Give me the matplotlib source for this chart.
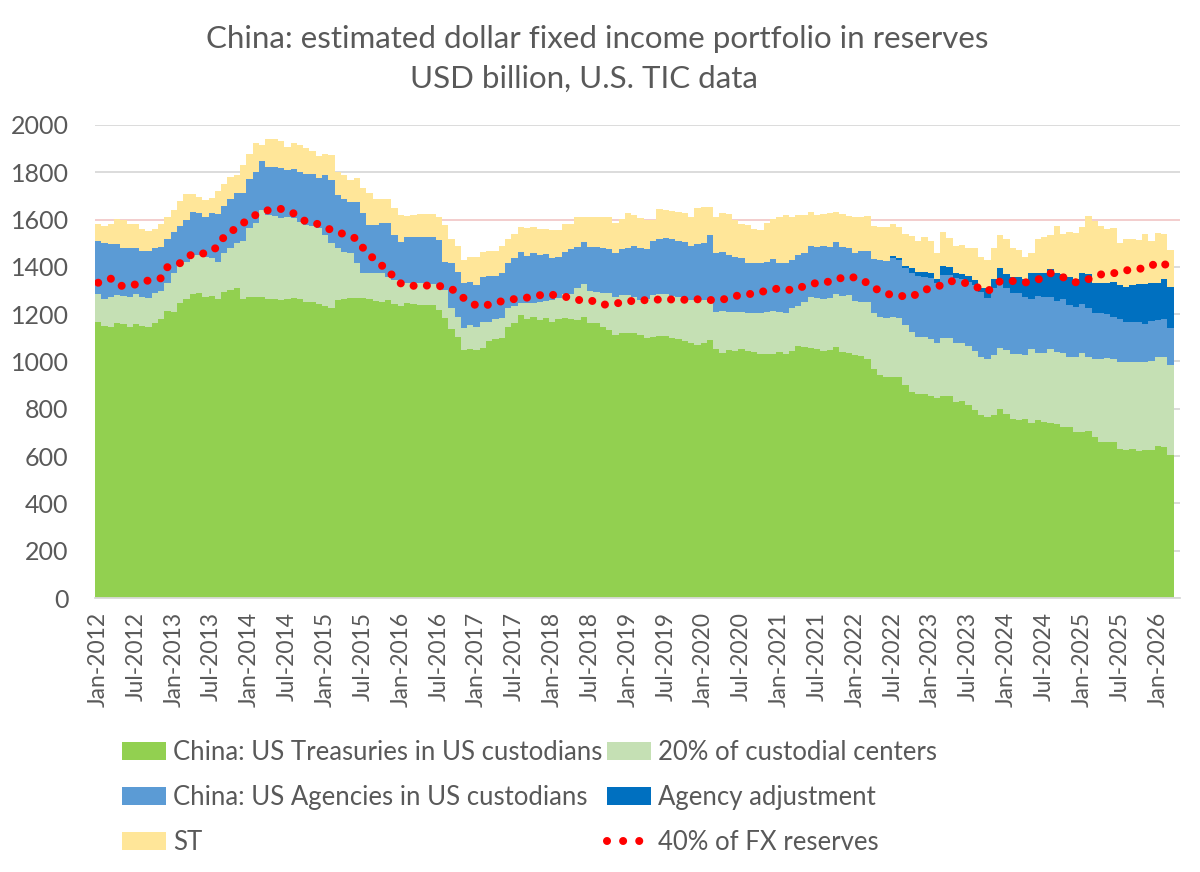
import numpy as np
import pandas as pd
import matplotlib
matplotlib.use("Agg")
import matplotlib.pyplot as plt
from matplotlib.patches import Patch
from matplotlib.lines import Line2D

plt.rcParams['font.family'] = ['Lato', 'DejaVu Sans']

# monthly, Jan-2012 .. Mar-2026 (USD billion)
months = pd.date_range("2012-01-01", periods=171, freq="MS")

treasuries = [
    1167, 1152, 1145, 1162, 1159, 1145, 1159, 1152, 1147, 1164, 1178, 1212, 1209, 1249, 1264, 1286, 1288, 1274, 1278, 1264,
    1293, 1302, 1309, 1264, 1274, 1274, 1274, 1263,
    1264, 1260, 1263, 1267, 1264, 1253, 1250, 1242, 1235, 1225, 1260, 1263, 1267, 1267, 1267, 1264, 1256, 1250, 1260, 1243,
    1236, 1249, 1243, 1239, 1239, 1238, 1218, 1183, 1138,
    1102, 1049, 1052, 1049, 1056, 1088, 1094, 1098, 1145, 1164, 1197, 1178, 1187, 1176, 1183, 1169, 1178, 1183, 1178, 1176,
    1187, 1164, 1162, 1145, 1133, 1112, 1119, 1119,
    1119, 1112, 1098, 1105, 1108, 1108, 1098, 1094, 1088, 1080, 1070, 1077, 1091, 1052, 1035, 1049, 1045, 1052, 1046, 1042,
    1030, 1032, 1032, 1039, 1030, 1046, 1066, 1063, 1059,
    1052, 1046, 1049, 1063, 1042, 1035, 1028, 1023, 1011, 967, 943, 936, 936, 936, 901, 873, 863, 861, 854, 847,
    854, 854, 830, 833, 816, 795, 774, 767,
    774, 798, 778, 756, 753, 757, 742, 753, 746, 739, 735, 722, 725, 704, 704, 708, 682, 661, 661, 659,
    629, 626, 630, 622, 626, 626, 643, 640, 605,
]

custodial = [
    118, 112, 126, 119, 118, 129, 126, 122, 123, 124, 122, 119, 164, 156, 158, 164, 162, 167, 158, 158,
    164, 177, 193, 247, 292, 310, 367, 356,
    351, 348, 347, 338, 327, 324, 323, 321, 300, 275, 219, 201, 193, 148, 106, 109, 120, 123, 99, 102,
    102, 84, 90, 92, 92, 88, 101, 119, 87,
    88, 91, 103, 96, 113, 81, 84, 85, 80, 71, 52, 71, 62, 77, 73, 91, 89, 101, 108, 133,
    139, 136, 133, 146, 155, 162, 162, 162,
    155, 148, 166, 176, 177, 176, 180, 180, 179, 180, 186, 183, 162, 159, 180, 162, 163, 156, 161, 162,
    174, 176, 183, 172, 177, 179, 169, 190, 212,
    215, 218, 218, 222, 236, 246, 228, 230, 242, 237, 247, 247, 251, 247, 253, 253, 242, 241, 240, 233,
    244, 244, 250, 244, 250, 251, 244, 242,
    254, 258, 271, 274, 277, 271, 310, 282, 289, 313, 303, 313, 293, 314, 331, 313, 327, 348, 353, 350,
    370, 373, 369, 377, 373, 376, 375, 378, 380,
]

agencies = [
    226, 236, 226, 216, 202, 205, 196, 195, 197, 191, 186, 187, 176, 168, 176, 184, 179, 171, 190, 202,
    200, 207, 212, 203, 204, 219, 208, 205,
    209, 209, 200, 207, 212, 214, 218, 211, 254, 267, 225, 223, 216, 261, 253, 204, 201, 211, 225, 190,
    169, 195, 195, 197, 197, 202, 195, 120, 193,
    190, 191, 183, 179, 190, 194, 185, 190, 190, 201, 215, 197, 208, 197, 199, 176, 176, 180, 188, 177,
    181, 186, 188, 188, 186, 183, 193, 198,
    214, 221, 210, 230, 233, 237, 239, 237, 240, 228, 239, 240, 282, 246, 249, 239, 233, 228, 211, 211,
    214, 214, 217, 204, 211, 204, 215, 207, 217,
    219, 224, 219, 219, 205, 198, 204, 214, 214, 228, 239, 243, 252, 246, 243, 247, 257, 257, 258, 251,
    268, 268, 275, 271, 272, 278, 277, 258,
    281, 294, 260, 261, 258, 246, 211, 242, 239, 222, 219, 228, 221, 214, 208, 204, 198, 195, 187, 181,
    179, 170, 167, 170, 160, 169, 158, 160, 155,
]

agency_adj = [0] * 126 + [
    7, 7, 7, 21, 18, 21, 21, 16, 38, 35, 18, 22, 24, 21, 17, 42,
    38, 44, 60, 65, 70, 75, 110, 96, 102, 116, 116, 107, 117, 115, 130, 145, 124, 127, 132, 148,
    146, 148, 158, 157, 167, 160, 157, 171, 177,
]

short_term = [
    69, 73, 84, 104, 119, 102, 99, 90, 86, 80, 95, 94, 92, 106, 110, 72, 68, 71, 66, 97,
    93, 95, 75, 117, 107, 119, 65, 115,
    115, 117, 98, 110, 112, 110, 100, 95, 88, 106, 99, 102, 91, 98, 106, 137, 109, 102, 104, 113,
    112, 89, 91, 96, 96, 96, 98, 155, 99,
    108, 98, 105, 119, 105, 104, 106, 115, 102, 103, 103, 117, 110, 109, 105, 120, 113, 117, 107, 126,
    105, 124, 127, 131, 136, 127, 127, 150,
    131, 124, 124, 87, 125, 120, 121, 123, 119, 124, 153, 155, 117, 155, 165, 174, 157, 144, 159, 144,
    138, 162, 169, 197, 201, 181, 169, 159, 146,
    133, 134, 140, 127, 141, 136, 152, 145, 148, 141, 141, 141, 134, 131, 135, 137, 131, 145, 138, 110,
    142, 120, 115, 123, 119, 136, 131, 120,
    132, 141, 148, 123, 114, 94, 84, 144, 152, 145, 200, 168, 193, 195, 194, 245, 264, 242, 226, 225,
    176, 200, 193, 188, 213, 180, 209, 191, 155,
]

fx_40pct = [
    1333, 1342, 1350, 1325, 1318, 1322, 1326, 1335, 1343, 1348, 1352, 1400, 1408, 1416, 1435, 1457, 1458, 1456, 1470, 1485,
    1530, 1545, 1570, 1585, 1605, 1620, 1632, 1640, 1642,
    1645, 1635, 1626, 1608, 1590, 1586, 1580, 1568, 1555, 1545, 1539, 1530, 1518, 1480, 1455, 1422, 1405, 1391, 1345, 1330,
    1320, 1320, 1321, 1321, 1321, 1320, 1313, 1307,
    1290, 1267, 1250, 1236, 1238, 1240, 1248, 1255, 1260, 1264, 1267, 1270, 1274, 1280, 1286, 1282, 1278, 1274, 1268, 1260,
    1260, 1259, 1250, 1240, 1242, 1246, 1248, 1255,
    1256, 1258, 1260, 1261, 1262, 1263, 1262, 1260, 1261, 1262, 1263, 1261, 1260, 1259, 1262, 1268, 1277, 1280, 1284, 1288,
    1293, 1300, 1305, 1309, 1306, 1301, 1310, 1319, 1328,
    1332, 1339, 1336, 1345, 1355, 1360, 1354, 1348, 1330, 1311, 1298, 1287, 1280, 1278, 1275, 1273, 1290, 1302, 1310, 1315,
    1328, 1340, 1338, 1335, 1328, 1319, 1305, 1295,
    1320, 1339, 1341, 1340, 1336, 1334, 1340, 1346, 1360, 1373, 1365, 1356, 1345, 1335, 1340, 1348, 1358, 1368, 1371, 1373,
    1380, 1385, 1390, 1392, 1394, 1405, 1420, 1412, 1401,
]

labels = ["China: US Treasuries in US custodians", "20% of custodial centers",
          "China: US Agencies in US custodians", "Agency adjustment", "ST"]
colors = ["#92D050", "#C5E0B4", "#5B9BD5", "#0070C0", "#FFE699"]
txt = "#595959"

series = [treasuries, custodial, agencies, agency_adj, short_term]
x = np.arange(len(months))
edges = np.arange(len(months) + 1) - 0.5

fig = plt.figure(figsize=(12, 8.72), dpi=100)
ax = fig.add_axes([0.0792, 0.3142, 0.904, 0.5425])

# stacked monthly columns (gap width 0)
base = np.zeros(len(months))
for vals, col in zip(series, colors):
    top = base + np.array(vals, dtype=float)
    ax.stairs(top, edges, baseline=base, fill=True, color=col, lw=0, zorder=2)
    base = top

ax.plot(x, fx_40pct, color="#FF0000", lw=5.8, linestyle=(0, (0.001, 1.65)),
        dash_capstyle="round", zorder=4)

ax.set_xlim(-0.5, 171.5)
ax.set_ylim(0, 2000)
ax.set_yticks(range(0, 2001, 200))
ax.yaxis.grid(True, color="#D9D9D9", lw=1.3)
ax.get_ygridlines()[8].set_color("#F2C9C9")
ax.set_axisbelow(True)

tick_pos = x[::6]
ax.set_xticks(tick_pos)
ax.set_xticklabels([months[i].strftime("%b-%Y") for i in tick_pos], rotation=90)
ax.tick_params(axis="x", length=0, pad=10, labelsize=16.5, labelcolor=txt)
ax.tick_params(axis="y", length=0, pad=19, labelsize=18, labelcolor=txt)

for s in ["top", "right", "left"]:
    ax.spines[s].set_visible(False)
ax.spines["bottom"].set_color("#D9D9D9")
ax.spines["bottom"].set_linewidth(1.3)

fig.text(0.498, 0.955, "China: estimated dollar fixed income portfolio in reserves",
         ha="center", va="center", fontsize=22.5, color=txt)
fig.text(0.487, 0.910, "USD billion, U.S. TIC data",
         ha="center", va="center", fontsize=22.5, color=txt)

h = [Patch(facecolor=c, edgecolor="none") for c in colors]
dots = Line2D([], [], color="#FF0000", lw=5.8, linestyle=(0, (0.001, 2.0)),
              dash_capstyle="round")

leg_kw = dict(loc="upper left", frameon=False, fontsize=18.5, labelcolor=txt,
              handlelength=1.7, handleheight=0.72, handletextpad=0.3,
              labelspacing=0.78, borderpad=0, borderaxespad=0)
fig.legend([h[0], h[2], h[4]], [labels[0], labels[2], labels[4]],
           bbox_to_anchor=(122 / 1200, 1 - 740 / 872), **leg_kw)
fig.legend([h[1], h[3], dots], [labels[1], labels[3], "40% of FX reserves"],
           bbox_to_anchor=(607 / 1200, 1 - 740 / 872), **leg_kw)

fig.savefig("out.png", dpi=100)
